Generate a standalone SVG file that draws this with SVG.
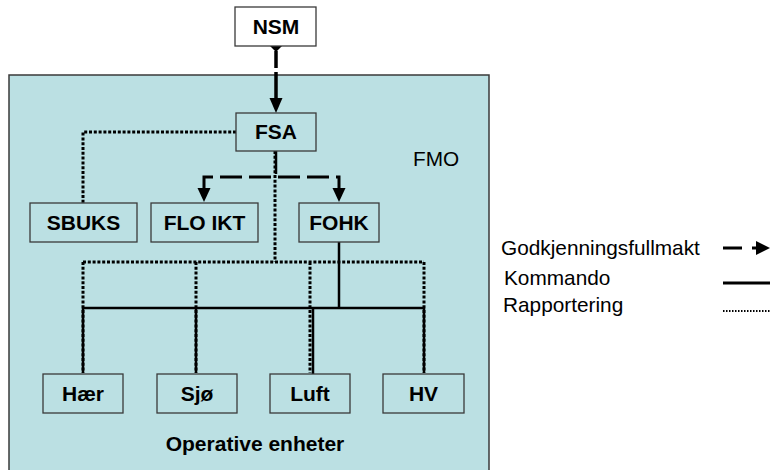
<svg xmlns="http://www.w3.org/2000/svg" width="770" height="470" viewBox="0 0 770 470">
<style>
.box{fill:#BBE0E3;stroke:#3a3a3a;stroke-width:1.3}
.lbl{font-family:"Liberation Sans",Arial,sans-serif;font-weight:bold;font-size:21px;fill:#000;text-anchor:middle}
.txt{font-family:"Liberation Sans",Arial,sans-serif;font-size:20.8px;fill:#000}
.dot{fill:none;stroke:#000;stroke-width:3;stroke-dasharray:3 1.8}
.sol{fill:none;stroke:#000;stroke-width:2.5}
.dash{fill:none;stroke:#000;stroke-width:3;stroke-dasharray:22 7}
</style>
<rect x="9" y="75" width="480" height="400" fill="#BBE0E3" stroke="#3a3a3a" stroke-width="1.5"/>
<text class="txt" x="413" y="166">FMO</text>
<text class="lbl" x="255" y="451">Operative enheter</text>
<g id="connectors">
<path d="M276,51 V68 M276,72 V99" stroke="#000" stroke-width="3.5" fill="none"/>
<path d="M276,40 L282,46 L276,52 L270,46 Z" fill="#000"/>
<path d="M269.5,98 L282.5,98 L276,113 Z" fill="#000"/>
<path class="dot" d="M236,132 H83 V203"/>
<path class="sol" d="M276,151 V174" stroke-width="3"/>
<path class="dot" d="M275,151 V262"/>
<path class="dash" d="M204,190 V177 H339 V190"/>
<path d="M197.5,188 L210.5,188 L204,202 Z" fill="#000"/>
<path d="M332.5,188 L345.5,188 L339,202 Z" fill="#000"/>
<path class="dot" d="M83,262 H424 M83,262 V373 M196,262 V373 M310,262 V373 M424,262 V373"/>
<path class="sol" d="M83,308 H424"/>
<path class="sol" d="M339,242 V308" stroke-width="3"/>
<path class="sol" d="M83,308 V373 M196,308 V373 M424,308 V373"/>
<path class="sol" d="M313,308 V374" stroke-width="3"/>
</g>
<g id="NSM"><rect x="235" y="7" width="81" height="39" fill="#fff" stroke="#3a3a3a" stroke-width="1.3"/><text class="lbl" x="276" y="34">NSM</text></g>
<g id="FSA"><rect class="box" x="236" y="113" width="80" height="38"/><text class="lbl" x="276" y="139">FSA</text></g>
<g id="SBUKS"><rect class="box" x="30" y="203" width="107" height="39"/><text class="lbl" x="83.5" y="230">SBUKS</text></g>
<g id="FLOIKT"><rect class="box" x="151" y="203" width="107" height="39"/><text class="lbl" x="204.5" y="230">FLO IKT</text></g>
<g id="FOHK"><rect class="box" x="299" y="203" width="80" height="39"/><text class="lbl" x="339" y="230">FOHK</text></g>
<g id="Haer"><rect class="box" x="43" y="374" width="80" height="39"/><text class="lbl" x="83" y="401">Hær</text></g>
<g id="Sjo"><rect class="box" x="157" y="374" width="80" height="39"/><text class="lbl" x="197" y="401">Sjø</text></g>
<g id="Luft"><rect class="box" x="270" y="374" width="80" height="39"/><text class="lbl" x="310" y="401">Luft</text></g>
<g id="HV"><rect class="box" x="383" y="374" width="81" height="39"/><text class="lbl" x="423.5" y="401">HV</text></g>
<g id="legend">
<text class="txt" x="501" y="255">Godkjenningsfullmakt</text>
<text class="txt" x="504" y="285">Kommando</text>
<text class="txt" x="503" y="312">Rapportering</text>
<path d="M723,248 H742 M752,248 H758" stroke="#000" stroke-width="3"/>
<path d="M756,241 L770,248 L756,255 Z" fill="#000"/>
<path d="M723,283 H770" stroke="#000" stroke-width="3"/>
<path d="M723,311 H770" stroke="#000" stroke-width="2" stroke-dasharray="1.5 1.5"/>
</g>
</svg>
